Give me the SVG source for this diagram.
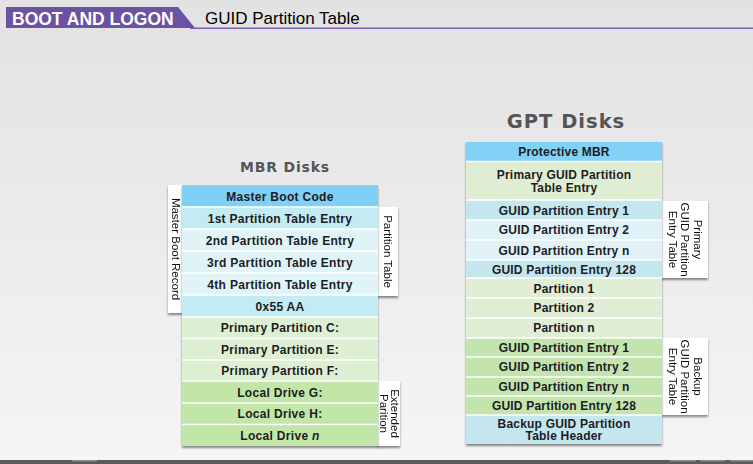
<svg xmlns="http://www.w3.org/2000/svg" width="753" height="464" viewBox="0 0 753 464">
<defs>
<linearGradient id="bg" x1="0" y1="0" x2="0" y2="1">
<stop offset="0" stop-color="#e2e2e2"/>
<stop offset="1" stop-color="#f5f5f5"/>
</linearGradient>
<filter id="sh" x="-20%" y="-10%" width="140%" height="120%">
<feDropShadow dx="0" dy="2" stdDeviation="1" flood-color="#000" flood-opacity="0.45"/>
</filter>
<style>
.row{font-family:"Liberation Sans",Arial,sans-serif;font-weight:bold;font-size:12px;fill:#1c1c24;text-anchor:middle;letter-spacing:0.2px}
.mbr{letter-spacing:0.3px}
.lbl{font-family:"Liberation Sans",Arial,sans-serif;font-size:11.5px;fill:#111;text-anchor:middle}
.ttl{font-family:"DejaVu Sans",Verdana,sans-serif;font-weight:bold;fill:#555;text-anchor:middle}
.sep{stroke:#fff;stroke-width:1.5}
.box{fill:#fff}
</style>
</defs>
<rect width="753" height="464" fill="url(#bg)"/>
<g id="header">
<polygon points="6,7 178,7 195,28 6,28" fill="#6b52a3"/>
<line x1="190" y1="28.3" x2="753" y2="28.3" stroke="#7a60b8" stroke-width="1.5"/>
<text x="12" y="25" font-family="Liberation Sans,Arial,sans-serif" font-weight="bold" font-size="17.5" fill="#fff">BOOT AND LOGON</text>
<text x="205" y="24" font-family="Liberation Sans,Arial,sans-serif" font-size="17" fill="#000">GUID Partition Table</text>
</g>
<g id="footer">
<rect x="0" y="460" width="753" height="4" fill="#5b5b5b"/>
<rect x="72" y="460" width="25" height="1.5" fill="#8a8a8a"/>
<rect x="670" y="460" width="26" height="1.5" fill="#8a8a8a"/>
<rect x="700" y="460" width="25" height="1.5" fill="#8a8a8a"/>
<rect x="730" y="460" width="23" height="1.5" fill="#8a8a8a"/>
</g>

<g id="mbr-title"><text class="ttl" x="285" y="172" font-size="14" letter-spacing="0.8">MBR Disks</text></g>

<g id="mbr-label-master-boot-record" filter="url(#sh)">
<rect class="box" x="168" y="185" width="15" height="128"/>
<text class="lbl" transform="translate(175.5,249) rotate(90)" y="4">Master Boot Record</text>
</g>
<g id="mbr-label-partition-table" filter="url(#sh)">
<rect class="box" x="377" y="207" width="21" height="89"/>
<text class="lbl" transform="translate(387.5,251.5) rotate(90)" y="4">Partition Table</text>
</g>
<g id="mbr-label-extended" filter="url(#sh)">
<rect class="box" x="377" y="381" width="23" height="65"/>
<text class="lbl" transform="translate(389,413.5) rotate(90)"><tspan x="0" y="-1.5">Extended</tspan><tspan x="0" y="9.5">Parition</tspan></text>
</g>

<g id="mbr-column" filter="url(#sh)">
<rect x="182" y="185" width="196" height="22" fill="#80cff6"/>
<rect x="182" y="207" width="196" height="22" fill="#c3ebf2"/>
<rect x="182" y="229" width="196" height="66" fill="#e0f4f8"/>
<rect x="182" y="295" width="196" height="22" fill="#c3ebf2"/>
<rect x="182" y="317" width="196" height="64" fill="#def0d4"/>
<rect x="182" y="381" width="196" height="65" fill="#c2e6a8"/>
<line class="sep" x1="182" y1="207" x2="378" y2="207"/>
<line class="sep" x1="182" y1="229" x2="378" y2="229"/>
<line class="sep" x1="182" y1="251" x2="378" y2="251"/>
<line class="sep" x1="182" y1="273" x2="378" y2="273"/>
<line class="sep" x1="182" y1="295" x2="378" y2="295"/>
<line class="sep" x1="182" y1="317" x2="378" y2="317"/>
<line class="sep" x1="182" y1="338.5" x2="378" y2="338.5"/>
<line class="sep" x1="182" y1="360" x2="378" y2="360"/>
<line class="sep" x1="182" y1="381" x2="378" y2="381"/>
<line class="sep" x1="182" y1="403" x2="378" y2="403"/>
<line class="sep" x1="182" y1="424.5" x2="378" y2="424.5"/>
</g>
<g id="mbr-rows">
<g id="mbr-master-boot-code"><text class="row mbr" x="280" y="200.5">Master Boot Code</text></g>
<g id="mbr-pte1"><text class="row mbr" x="280" y="222.5">1st Partition Table Entry</text></g>
<g id="mbr-pte2"><text class="row mbr" x="280" y="244.5">2nd Partition Table Entry</text></g>
<g id="mbr-pte3"><text class="row mbr" x="280" y="266.5">3rd Partition Table Entry</text></g>
<g id="mbr-pte4"><text class="row mbr" x="280" y="288.5">4th Partition Table Entry</text></g>
<g id="mbr-sig"><text class="row mbr" x="280" y="310.5">0x55 AA</text></g>
<g id="mbr-pc"><text class="row mbr" x="280" y="332">Primary Partition C:</text></g>
<g id="mbr-pe"><text class="row mbr" x="280" y="353.5">Primary Partition E:</text></g>
<g id="mbr-pf"><text class="row mbr" x="280" y="375">Primary Partition F:</text></g>
<g id="mbr-lg"><text class="row mbr" x="280" y="396.5">Local Drive G:</text></g>
<g id="mbr-lh"><text class="row mbr" x="280" y="418">Local Drive H:</text></g>
<g id="mbr-ln"><text class="row mbr" x="280" y="439.5">Local Drive <tspan font-style="italic">n</tspan></text></g>
</g>

<g id="gpt-title"><text class="ttl" x="566" y="128" font-size="19.5" letter-spacing="1">GPT Disks</text></g>

<g id="gpt-label-primary" filter="url(#sh)">
<rect class="box" x="661" y="201" width="47" height="77"/>
<text class="lbl" transform="translate(685,239.5) rotate(90)"><tspan x="0" y="-8.5">Primary</tspan><tspan x="0" y="4">GUID Partition</tspan><tspan x="0" y="16.5">Entry Table</tspan></text>
</g>
<g id="gpt-label-backup" filter="url(#sh)">
<rect class="box" x="661" y="338" width="47" height="77"/>
<text class="lbl" transform="translate(685,376.5) rotate(90)"><tspan x="0" y="-8.5">Backup</tspan><tspan x="0" y="4">GUID Partition</tspan><tspan x="0" y="16.5">Entry Table</tspan></text>
</g>

<g id="gpt-column" filter="url(#sh)">
<rect x="466" y="142" width="196" height="19" fill="#82d2f8"/>
<rect x="466" y="161" width="196" height="39" fill="#dfedd3"/>
<rect x="466" y="200" width="196" height="20" fill="#c3e6ef"/>
<rect x="466" y="220" width="196" height="40" fill="#e0f2f8"/>
<rect x="466" y="260" width="196" height="18" fill="#c3e6ef"/>
<rect x="466" y="278" width="196" height="60" fill="#e0eed6"/>
<rect x="466" y="338" width="196" height="77" fill="#c4e4ae"/>
<rect x="466" y="415" width="196" height="29" fill="#c3e6ef"/>
<line class="sep" x1="466" y1="161.5" x2="662" y2="161.5" stroke-width="2.5"/>
<line class="sep" x1="466" y1="200" x2="662" y2="200"/>
<line class="sep" x1="466" y1="220" x2="662" y2="220"/>
<line class="sep" x1="466" y1="240" x2="662" y2="240"/>
<line class="sep" x1="466" y1="260" x2="662" y2="260"/>
<line class="sep" x1="466" y1="278" x2="662" y2="278"/>
<line class="sep" x1="466" y1="298" x2="662" y2="298"/>
<line class="sep" x1="466" y1="318" x2="662" y2="318"/>
<line class="sep" x1="466" y1="338" x2="662" y2="338"/>
<line class="sep" x1="466" y1="357" x2="662" y2="357"/>
<line class="sep" x1="466" y1="377" x2="662" y2="377"/>
<line class="sep" x1="466" y1="396" x2="662" y2="396"/>
<line class="sep" x1="466" y1="415" x2="662" y2="415"/>
</g>
<g id="gpt-rows">
<g id="gpt-protective-mbr"><text class="row" x="564" y="156">Protective MBR</text></g>
<g id="gpt-primary-header"><text class="row" x="564"><tspan x="564" y="179">Primary GUID Partition</tspan><tspan x="564" y="192">Table Entry</tspan></text></g>
<g id="gpt-pe1"><text class="row" x="564" y="214.5">GUID Partition Entry 1</text></g>
<g id="gpt-pe2"><text class="row" x="564" y="233.5">GUID Partition Entry 2</text></g>
<g id="gpt-pen"><text class="row" x="564" y="255">GUID Partition Entry n</text></g>
<g id="gpt-pe128"><text class="row" x="564" y="273.5">GUID Partition Entry 128</text></g>
<g id="gpt-part1"><text class="row" x="564" y="292.5">Partition 1</text></g>
<g id="gpt-part2"><text class="row" x="564" y="312">Partition 2</text></g>
<g id="gpt-partn"><text class="row" x="564" y="332">Partition n</text></g>
<g id="gpt-be1"><text class="row" x="564" y="352">GUID Partition Entry 1</text></g>
<g id="gpt-be2"><text class="row" x="564" y="371">GUID Partition Entry 2</text></g>
<g id="gpt-ben"><text class="row" x="564" y="391">GUID Partition Entry n</text></g>
<g id="gpt-be128"><text class="row" x="564" y="410">GUID Partition Entry 128</text></g>
<g id="gpt-backup-header"><text class="row" x="564"><tspan x="564" y="427.5">Backup GUID Partition</tspan><tspan x="564" y="440">Table Header</tspan></text></g>
</g>
</svg>
